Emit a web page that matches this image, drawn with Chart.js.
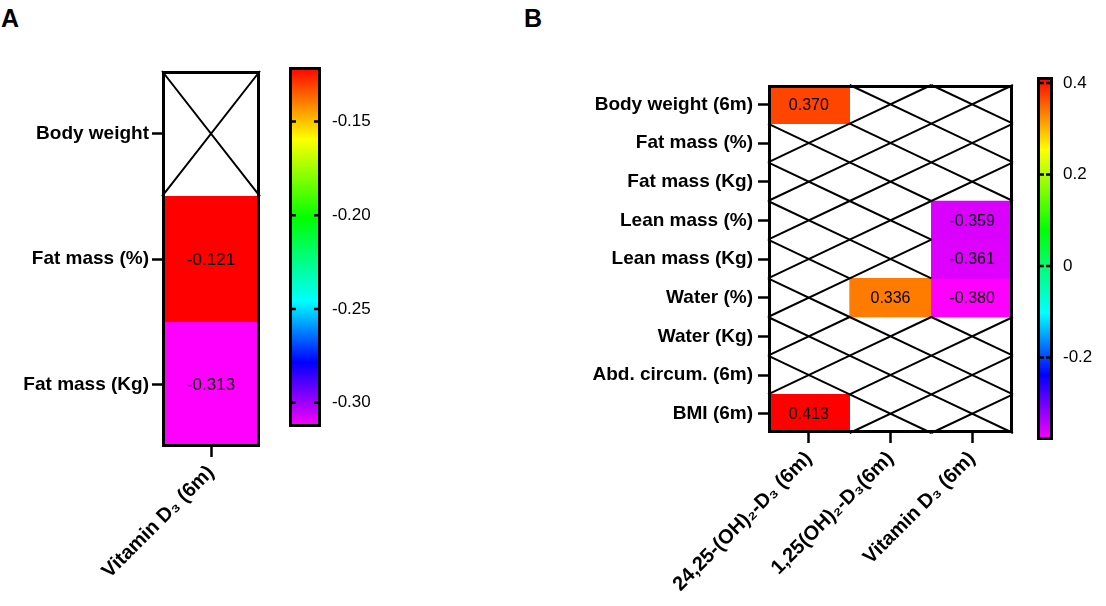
<!DOCTYPE html>
<html>
<head>
<meta charset="utf-8">
<script src="https://cdn.jsdelivr.net/npm/chart.js@4"></script>
<style>
  body{margin:0;background:#fff;width:1106px;height:606px;position:relative;overflow:hidden;font-family:"Liberation Sans",Arial,sans-serif;}
  canvas{position:absolute;top:0;}
  .letter{position:absolute;font-weight:bold;font-size:25px;color:#000;line-height:1;}
</style>
</head>
<body>
<div class="letter" style="left:1px;top:6px;">A</div>
<div class="letter" style="left:524px;top:6px;">B</div>
<canvas id="heatA" width="275" height="606" style="left:0px;"></canvas>
<canvas id="barA" width="125" height="606" style="left:275px;"></canvas>
<canvas id="heatB" width="500" height="606" style="left:520px;"></canvas>
<canvas id="barB" width="81" height="606" style="left:1025px;"></canvas>
<script>
// Panel A data
const rowsA = ["Body weight", "Fat mass (%)", "Fat mass (Kg)"];
const colsA = ["Vitamin D\u2083 (6m)"];
const valuesA = [
    [null],
    [-0.121],
    [-0.313]
];
const rangeA = [-0.313, -0.121];
const ticksA = [-0.30, -0.25, -0.20, -0.15];

// Panel B data
const rowsB = ["Body weight (6m)", "Fat mass (%)", "Fat mass (Kg)", "Lean mass (%)", "Lean mass (Kg)",
    "Water (%)", "Water (Kg)", "Abd. circum. (6m)", "BMI (6m)"];
const colsB = ["24,25-(OH)\u2082-D\u2083 (6m)", "1,25(OH)\u2082-D\u2083(6m)", "Vitamin D\u2083 (6m)"];
const valuesB = [
    [0.370, null, null],
    [null, null, null],
    [null, null, null],
    [null, null, -0.359],
    [null, null, -0.361],
    [null, 0.336, -0.380],
    [null, null, null],
    [null, null, null],
    [0.413, null, null]
];
const rangeB = [-0.380, 0.413];
const ticksB = [-0.2, 0, 0.2, 0.4];

const FONT = '"Liberation Sans", Arial, sans-serif';
Chart.defaults.font.family = FONT;
Chart.defaults.color = "#000";

// rainbow colour map, top (max) = red, bottom (min) = magenta
const stops = [
    [0, [255, 0, 0]],
    [0.2, [255, 255, 0]],
    [0.42, [0, 255, 0]],
    [0.65, [0, 255, 255]],
    [0.82, [0, 0, 255]],
    [1, [255, 0, 255]]
];

function colorAt(t){
    t = Math.max(0, Math.min(1, t));
    for(let k = 1; k < stops.length; k++){
        if(t <= stops[k][0]){
            const a = stops[k-1], b = stops[k];
            const f = (t - a[0]) / (b[0] - a[0]);
            const c = a[1].map((v, i) => Math.round(v + (b[1][i] - v) * f));
            return "rgb(" + c.join(",") + ")";
        }
    }
    return "rgb(255,0,255)";
}

function cellColor(v, range){
    if(v === null) return "rgba(0,0,0,0)";
    return colorAt((range[1] - v) / (range[1] - range[0]));
}

// Heatmap drawn as floating bars, one dataset per row
function heatmap(id, rows, cols, values, range, opt){

    const gridPlugin = {
        id: "cells",
        afterDatasetsDraw(chart){
            const c = chart.ctx;
            const x = chart.scales.x, y = chart.scales.y;
            const area = chart.chartArea;
            const w = (area.right - area.left) / cols.length;
            c.save();
            c.strokeStyle = "#000";
            c.lineWidth = 2;
            rows.forEach((r, i) => {
                const top = y.getPixelForValue(i), bot = y.getPixelForValue(i + 1);
                cols.forEach((col, j) => {
                    const cx = x.getPixelForValue(j);
                    const l = cx - w / 2, rt = cx + w / 2;
                    const v = values[i][j];
                    if(v === null){
                        c.beginPath();
                        c.moveTo(l, top); c.lineTo(rt, bot);
                        c.moveTo(l, bot); c.lineTo(rt, top);
                        c.stroke();
                    }else{
                        c.fillStyle = "#000";
                        c.font = opt.cellFont + "px " + FONT;
                        c.textAlign = "center";
                        c.textBaseline = "middle";
                        c.fillText(v.toFixed(3), cx, (top + bot) / 2 + 1);
                    }
                });
            });
            c.lineWidth = 3;
            c.strokeRect(area.left + 1.5, area.top + 1.5, area.right - area.left - 3, area.bottom - area.top - 3);
            c.restore();
        }
    };

    return new Chart(document.getElementById(id), {
        type: "bar",
        data: {
            labels: cols,
            datasets: rows.map((r, i) => ({
                label: r,
                data: cols.map((c, j) => values[i][j] === null ? null : [i, i + 1]),
                backgroundColor: cols.map((c, j) => cellColor(values[i][j], range)),
                grouped: false,
                barPercentage: 1,
                categoryPercentage: 1,
                borderWidth: 0
            }))
        },
        options: {
            responsive: false,
            animation: false,
            layout: { padding: { top: opt.top, right: opt.right, left: 0, bottom: 0 } },
            plugins: { legend: { display: false }, tooltip: { enabled: false } },
            scales: {
                x: {
                    type: "category",
                    offset: true,
                    border: { display: false },
                    grid: { offset: false, drawOnChartArea: false, tickLength: 10, tickWidth: 2.5, tickColor: "#000" },
                    ticks: { autoSkip: false, minRotation: 45, maxRotation: 45, padding: 4,
                        font: { size: 20, weight: "bold" }, color: "#000" },
                    afterFit: s => { s.height = opt.xh; }
                },
                y: {
                    type: "linear",
                    min: 0,
                    max: rows.length,
                    reverse: true,
                    border: { display: false },
                    grid: { drawOnChartArea: false, tickLength: 10, tickWidth: 2.5, tickColor: "#000" },
                    afterBuildTicks: s => { s.ticks = rows.map((r, i) => ({ value: i + 0.5 })); },
                    ticks: { autoSkip: false, padding: opt.ypad,
                        callback: v => rows[Math.floor(v)],
                        font: { size: 19, weight: "bold" }, color: "#000" },
                    afterFit: s => { s.width = opt.yw; }
                }
            }
        },
        plugins: [gridPlugin]
    });
}

// Colour bar: one floating bar filled with the colour map
function colorbar(id, range, ticks, fmt, opt){

    const framePlugin = {
        id: "frame",
        afterDatasetsDraw(chart){
            const c = chart.ctx, a = chart.chartArea, y = chart.scales.y;
            c.save();
            c.strokeStyle = "#000";
            c.lineWidth = 2.5;
            ticks.forEach(t => {
                const py = y.getPixelForValue(t);
                c.beginPath();
                c.moveTo(a.left, py); c.lineTo(a.left + 7, py);
                c.moveTo(a.right - 7, py); c.lineTo(a.right, py);
                c.stroke();
            });
            c.lineWidth = 3;
            c.strokeRect(a.left + 1.5, a.top + 1.5, a.right - a.left - 3, a.bottom - a.top - 3);
            c.restore();
        }
    };

    return new Chart(document.getElementById(id), {
        type: "bar",
        data: {
            labels: [""],
            datasets: [{
                data: [[range[0], range[1]]],
                barPercentage: 1,
                categoryPercentage: 1,
                borderWidth: 0,
                backgroundColor: ctx => {
                    const a = ctx.chart.chartArea;
                    if(!a) return "#fff";
                    const g = ctx.chart.ctx.createLinearGradient(0, a.top, 0, a.bottom);
                    stops.forEach(s => g.addColorStop(s[0], "rgb(" + s[1].join(",") + ")"));
                    return g;
                }
            }]
        },
        options: {
            responsive: false,
            animation: false,
            layout: { padding: { top: opt.top, bottom: opt.bottom, left: opt.left, right: 0 } },
            plugins: { legend: { display: false }, tooltip: { enabled: false } },
            scales: {
                x: { display: false },
                y: {
                    position: "right",
                    min: range[0],
                    max: range[1],
                    border: { display: false },
                    grid: { display: false, drawTicks: false },
                    afterBuildTicks: s => { s.ticks = ticks.map(v => ({ value: v })); },
                    ticks: { padding: opt.pad, callback: fmt, font: { size: 17 }, color: "#000" },
                    afterFit: s => { s.width = opt.yw; }
                }
            }
        },
        plugins: [framePlugin]
    });
}

heatmap("heatA", rowsA, colsA, valuesA, rangeA, { top: 71, right: 15, xh: 159, yw: 162, ypad: 3, cellFont: 17 });
colorbar("barA", rangeA, ticksA, v => v.toFixed(2), { top: 67, bottom: 179, left: 14, yw: 79, pad: 11 });

heatmap("heatB", rowsB, colsB, valuesB, rangeB, { top: 85, right: 7, xh: 173, yw: 248, ypad: 5, cellFont: 16 });
colorbar("barB", rangeB, ticksB, v => v === 0 ? "0" : v.toFixed(1), { top: 77, bottom: 166, left: 12, yw: 53, pad: 10 });
</script>
</body>
</html>
